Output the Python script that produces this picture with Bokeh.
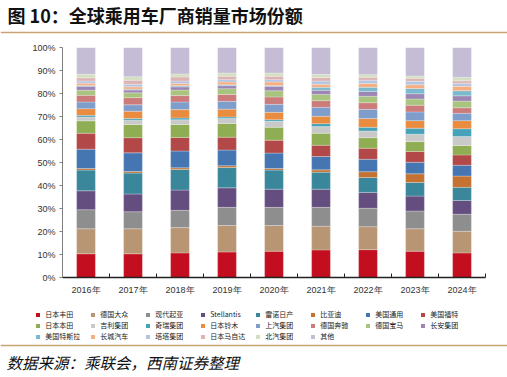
from bokeh.plotting import figure
from bokeh.layouts import column
from bokeh.models import (ColumnDataSource, FixedTicker, NumeralTickFormatter, Range1d,
                          Legend, LegendItem, Label, Span)
from bokeh.embed import file_html
from bokeh.resources import INLINE

title_text = "图 10：全球乘用车厂商销量市场份额"
source_text = "数据来源：乘联会，西南证券整理"

years = ["2016年", "2017年", "2018年", "2019年", "2020年", "2021年", "2022年", "2023年", "2024年"]

companies = ["日本丰田", "德国大众", "现代起亚", "Stellantis", "雷诺日产", "比亚迪", "美国通用", "美国福特",
             "日本本田", "吉利集团", "奇瑞集团", "日本铃木", "上汽集团", "德国奔驰", "德国宝马", "长安集团",
             "美国特斯拉", "长城汽车", "塔塔集团", "日本马自达", "北汽集团", "其他"]

toyota     = [10.3, 10.3, 10.7, 11.1, 11.4, 12.0, 12.1, 11.4, 10.7]
vw         = [10.9, 10.9, 11.0, 11.5, 11.2, 10.3, 10.0, 9.8, 9.4]
hyundai    = [8.3, 7.4, 7.5, 7.9, 7.9, 8.2, 8.0, 7.7, 7.4]
stellantis = [8.2, 7.7, 8.8, 8.5, 7.9, 7.9, 6.9, 6.5, 6.0]
renault    = [9.0, 9.1, 9.0, 8.8, 8.3, 7.4, 6.5, 5.9, 5.7]
byd        = [0.7, 0.7, 0.7, 0.8, 0.7, 1.0, 2.5, 3.8, 4.9]
gm         = [8.4, 8.1, 7.3, 6.8, 6.7, 5.8, 5.4, 5.0, 4.7]
ford       = [6.9, 6.6, 5.9, 5.6, 5.6, 4.9, 4.8, 4.7, 4.5]
honda      = [5.4, 5.7, 5.6, 6.0, 5.6, 5.2, 4.6, 4.3, 4.1]
geely      = [1.7, 1.9, 2.1, 2.1, 2.6, 2.9, 2.9, 3.2, 3.9]
chery      = [0.7, 0.7, 0.8, 0.7, 0.7, 1.3, 1.6, 2.6, 3.4]
suzuki     = [2.9, 3.2, 3.6, 3.4, 3.2, 3.2, 3.8, 3.3, 3.5]
saic       = [2.9, 2.8, 3.3, 3.4, 3.5, 3.9, 4.0, 3.8, 3.2]
benz       = [2.9, 3.1, 2.8, 3.0, 3.2, 2.9, 2.9, 2.9, 2.4]
bmw        = [2.2, 2.1, 2.4, 2.5, 2.7, 2.7, 2.8, 2.7, 2.9]
changan    = [1.7, 1.2, 1.4, 1.3, 1.9, 1.8, 2.1, 2.3, 2.3]
tesla      = [0.4, 0.4, 0.5, 0.4, 0.4, 1.3, 1.8, 2.3, 2.2]
gwm        = [1.0, 1.0, 1.0, 1.2, 1.5, 1.3, 1.7, 1.6, 1.9]
tata       = [0.9, 1.1, 1.0, 1.0, 1.0, 1.4, 1.4, 1.5, 1.3]
mazda      = [1.4, 1.8, 1.8, 1.5, 1.5, 1.6, 1.3, 1.3, 1.1]
baic       = [1.6, 1.5, 1.3, 1.4, 1.4, 1.3, 1.1, 1.0, 1.5]
others     = [11.6, 12.7, 11.5, 11.1, 11.1, 11.7, 11.8, 12.4, 13.0]

series = [toyota, vw, hyundai, stellantis, renault, byd, gm, ford, honda, geely, chery, suzuki,
          saic, benz, bmw, changan, tesla, gwm, tata, mazda, baic, others]

colors = ["#C20E1F", "#B99673", "#8E8E8E", "#644E7F", "#3A879B", "#C37232", "#4676B2", "#B24948",
          "#8FAD52", "#C9C9C9", "#45A2B8", "#E98C3F", "#7F9DCA", "#CA7B7A", "#A8C47F", "#9C86B4",
          "#7BBACE", "#F5AE80", "#B5C4E1", "#DDB4B4", "#D4DFC1", "#C5BCD5"]

LINE_COLOR = "#C9A271"
CJK = "'Noto Sans CJK SC'"

# normalize to shares
totals = [sum(s[i] for s in series) for i in range(len(years))]
data = {"x": [i + 0.5 for i in range(len(years))]}
for name, s in zip(companies, series):
    data[name] = [v / t for v, t in zip(s, totals)]
src = ColumnDataSource(data)


def strip_fig(height):
    f = figure(width=507, height=height, output_backend="svg", toolbar_location=None,
               x_axis_type=None, y_axis_type=None,
               x_range=Range1d(0, 507), y_range=Range1d(0, height),
               min_border_left=0, min_border_right=0, min_border_top=0, min_border_bottom=0,
               frame_align=False)
    f.outline_line_color = None
    f.border_fill_color = "white"
    f.background_fill_color = "white"
    return f


# ---- top strip: title + rule
top = strip_fig(34)
top.add_layout(Label(x=7, y=19.5, text=title_text, text_font=CJK, text_font_size="18px",
                     text_font_style="bold", text_baseline="middle", text_color="#111111"))
top.add_layout(Span(location=2, dimension="width", line_color=LINE_COLOR, line_width=1.3))

# ---- main chart
p = figure(width=507, height=266, output_backend="svg", toolbar_location=None,
           x_range=Range1d(0, len(years)), y_range=Range1d(0, 1),
           min_border_left=62, min_border_right=22, min_border_top=13, min_border_bottom=23,
           frame_align=False)
p.outline_line_color = None
p.xgrid.visible = False
p.ygrid.visible = False
p.border_fill_color = "white"

rs = p.vbar_stack(companies, x="x", width=0.4, source=src, color=colors,
                  line_color="white", line_width=0.5, line_alpha=0.5)

axis_font = "'Liberation Sans Narrow', 'Liberation Sans', sans-serif"

xa = p.xaxis[0]
xa.ticker = FixedTicker(ticks=[i + 0.5 for i in range(len(years))],
                        minor_ticks=[float(i) for i in range(len(years) + 1)])
xa.major_label_overrides = {i + 0.5: y for i, y in enumerate(years)}
xa.major_tick_line_color = None
xa.major_tick_in = 0
xa.major_tick_out = 0
xa.minor_tick_in = 4
xa.minor_tick_out = 0
xa.minor_tick_line_color = "#222222"
xa.axis_line_color = "#222222"
xa.axis_line_width = 1.5
xa.major_label_text_font = axis_font
xa.major_label_text_font_size = "9px"
xa.major_label_text_color = "#333333"
xa.major_label_standoff = 7

ya = p.yaxis[0]
ya.ticker = FixedTicker(ticks=[i / 10 for i in range(11)])
ya.formatter = NumeralTickFormatter(format="0%")
ya.axis_line_color = "#7F7F7F"
ya.major_tick_line_color = "#7F7F7F"
ya.major_tick_out = 3
ya.major_tick_in = 0
ya.minor_tick_line_color = None
ya.major_label_text_font = axis_font
ya.major_label_text_font_size = "9px"
ya.major_label_text_color = "#333333"
ya.major_label_standoff = 4

# ---- legend strip: the same stacked series, drawn on an off-screen range,
# serve only as legend keys
leg = strip_fig(42)
leg.extra_y_ranges = {"keys": Range1d(1000, 1001)}
leg_rs = leg.vbar_stack(companies, x="x", width=0.4, source=src, color=colors,
                        line_color=None, y_range_name="keys")
items = [LegendItem(label=name, renderers=[r]) for name, r in zip(companies, leg_rs)]
lg = Legend(items=items, orientation="horizontal", ncols=8, location=(35.3, 1),
            glyph_width=5, glyph_height=5, label_standoff=5, label_width=44, label_height=10,
            spacing=1, padding=0, margin=0, border_line_color=None, background_fill_alpha=0,
            label_text_font=CJK, label_text_font_size="7px", label_text_color="#222222")
leg.add_layout(lg, "center")

# ---- bottom strip: rule + source
bot = strip_fig(35)
bot.add_layout(Span(location=32, dimension="width", line_color=LINE_COLOR, line_width=1.3))
bot.add_layout(Label(x=6, y=15.5, text=source_text, text_font=CJK, text_font_size="15.5px",
                     text_font_style="italic", text_baseline="middle", text_color="#111111"))

layout = column(top, p, leg, bot, spacing=0)
open("out.html", "w").write(file_html(layout, INLINE))
